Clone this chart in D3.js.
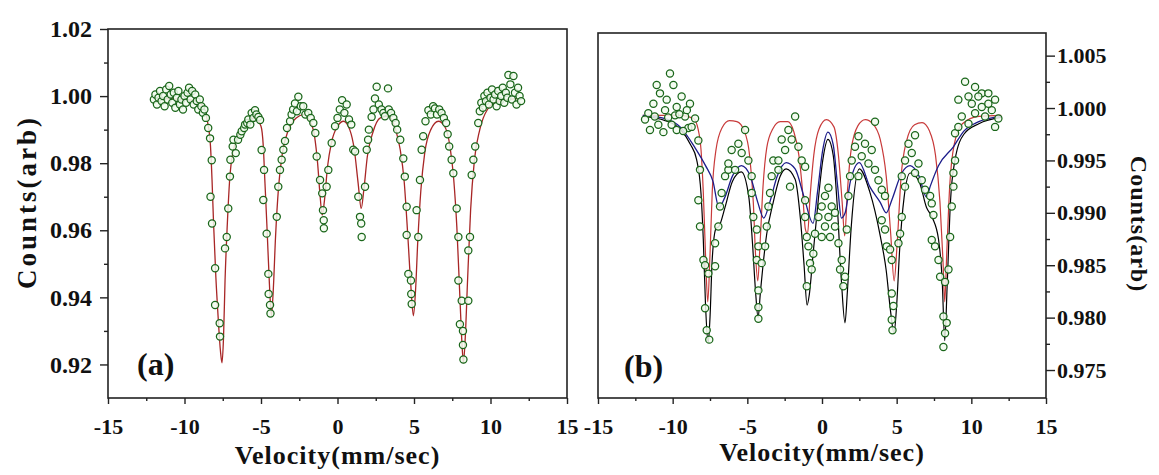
<!DOCTYPE html>
<html><head><meta charset="utf-8">
<script src="https://cdn.jsdelivr.net/npm/d3@7"></script>
<style>
body{margin:0;background:#fff}
text{font-family:"Liberation Serif","Times New Roman",serif;font-weight:bold;fill:#111}
</style>
</head><body>
<svg id="chart" width="1159" height="475"></svg>
<script>
// ---------- data ----------
const xTickValues = [-15,-10,-5,0,5,10,15];
const xMinorTicks = [-12.5,-7.5,-2.5,2.5,7.5,12.5];
const yTicksA = [0.92,0.94,0.96,0.98,1.00,1.02];
const yMinorA = [0.93,0.95,0.97,0.99,1.01];
const yTicksB = [0.975,0.980,0.985,0.990,0.995,1.000,1.005];
const yMinorB = [0.9775,0.9825,0.9875,0.9925,0.9975,1.0025];
const xTitle = "Velocity(mm/sec)";
const yTitle = "Counts(arb)";
const panelLabels = ["(a)","(b)"];

// panel (a) measured points [velocity, counts]
const dataA = [
[-12.0,0.9990],[-11.9,1.0005],[-11.8,0.9975],[-11.7,0.9995],[-11.6,1.0015],[-11.5,0.9985],[-11.4,1.0000],[-11.3,0.9970],[-11.2,1.0020],[-11.1,0.9990],[-11.0,1.0030],[-10.9,1.0005],[-10.8,0.9980],[-10.7,1.0010],[-10.6,0.9965],[-10.5,0.9995],[-10.4,1.0015],[-10.3,0.9975],[-10.2,0.9990],[-10.1,0.9960],[-10.0,1.0000],[-9.9,0.9980],[-9.8,1.0010],[-9.7,1.0025],[-9.6,0.9990],[-9.5,1.0015],[-9.4,0.9975],[-9.3,1.0005],[-9.2,0.9985],[-9.1,0.9960],[-9.0,0.9990],[-8.9,0.9970],[-8.8,0.9950],[-8.7,0.9960],[-8.6,0.9935],
[-8.45,0.9905],[-8.33,0.9874],[-8.22,0.9809],[-8.3,0.9700],[-8.2,0.9620],[-8.0,0.9487],[-8.0,0.9377],[-7.7,0.9323],[-7.68,0.9283],
[-7.35,0.9546],[-7.24,0.9580],[-7.14,0.9665],[-7.03,0.9760],[-7.0,0.9810],[-6.85,0.9850],[-6.8,0.9870],
[-6.65,0.9830],[-6.5,0.9870],[-6.35,0.9885],[-6.26,0.9895],[-6.1,0.9905],[-6.04,0.9915],[-5.9,0.9920],[-5.83,0.9930],[-5.7,0.9915],[-5.61,0.9950],[-5.5,0.9935],[-5.39,0.9958],[-5.3,0.9945],[-5.17,0.9938],[-5.06,0.9929],
[-4.96,0.9839],[-4.8,0.9780],[-4.85,0.9690],[-4.63,0.9590],[-4.52,0.9470],[-4.5,0.9410],[-4.41,0.9377],[-4.38,0.9352],
[-3.97,0.9640],[-3.87,0.9730],[-3.76,0.9780],[-3.65,0.9810],[-3.54,0.9840],[-3.43,0.9866],
[-3.3,0.9905],[-3.1,0.9925],[-3.0,0.9945],[-2.9,0.9960],[-2.78,0.9978],[-2.65,0.9955],[-2.56,0.9998],[-2.4,0.9970],[-2.24,0.9970],[-2.1,0.9945],[-1.91,0.9950],[-1.75,0.9935],[-1.58,0.9920],[-1.45,0.9890],
[-1.36,0.9820],[-1.14,0.9750],[-1.0,0.9710],[-0.95,0.9660],[-0.9,0.9630],[-0.89,0.9606],
[-0.71,0.9730],[-0.6,0.9780],[-0.38,0.9860],[-0.16,0.9910],
[0.0,0.9935],[0.15,0.9960],[0.3,0.9988],[0.45,0.9950],[0.6,0.9975],[0.75,0.9930],[0.9,0.9915],[1.03,0.9840],
[1.15,0.9835],[1.36,0.9700],[1.47,0.9640],[1.55,0.9620],[1.58,0.9580],[1.8,0.9730],[1.91,0.9840],[2.0,0.9870],
[2.05,0.9900],[2.23,0.9938],[2.35,0.9960],[2.45,0.9993],[2.56,1.0028],[2.7,0.9975],[2.88,0.9960],[3.0,0.9950],[3.1,0.9940],[3.3,1.0023],[3.35,0.9960],[3.5,0.9950],[3.65,0.9935],[3.8,0.9920],[3.9,0.9900],[4.1,0.9870],
[4.3,0.9814],[4.4,0.9760],[4.52,0.9670],[4.52,0.9586],[4.63,0.9470],[4.8,0.9450],[4.82,0.9410],[4.85,0.9380],
[5.28,0.9580],[5.17,0.9660],[5.39,0.9750],[5.5,0.9840],[5.6,0.9880],
[5.75,0.9925],[5.94,0.9958],[6.1,0.9945],[6.25,0.9970],[6.37,0.9963],[6.5,0.9945],[6.65,0.9960],[6.8,0.9950],[6.95,0.9935],[7.1,0.9920],[7.2,0.9886],[7.3,0.9850],[7.46,0.9810],[7.57,0.9770],
[7.79,0.9665],[7.9,0.9580],[7.9,0.9450],[8.12,0.9390],[8.0,0.9320],[8.2,0.9300],[8.2,0.9258],[8.23,0.9215],
[8.55,0.9390],[8.55,0.9540],[8.66,0.9580],[8.77,0.9765],[8.88,0.9810],[9.0,0.9850],[9.2,0.9920],
[9.3,0.9955],[9.4,0.9980],[9.5,0.9965],[9.6,1.0000],[9.7,0.9985],[9.8,1.0010],[9.9,0.9975],[10.0,0.9995],[10.1,1.0020],[10.2,0.9990],[10.3,1.0005],[10.4,0.9970],[10.5,1.0015],[10.6,0.9985],[10.7,1.0000],[10.8,1.0025],[10.9,0.9980],[11.0,1.0010],[11.1,0.9995],[11.17,1.0063],[11.3,1.0035],[11.4,0.9990],[11.5,1.0060],[11.6,1.0010],[11.7,0.9975],[11.8,1.0025],[11.9,1.0000],[12.0,0.9985]
];

// panel (a) fitted curve
const fitA = [
[-12,0.9993],[-10,0.9990],[-9.2,0.9985],[-8.8,0.9970],[-8.5,0.9925],[-8.3,0.985],[-8.2,0.975],[-8.1,0.962],[-7.95,0.946],[-7.8,0.934],[-7.65,0.924],[-7.55,0.9205],[-7.45,0.928],[-7.35,0.945],[-7.2,0.962],[-7.05,0.975],[-6.8,0.984],[-6.4,0.989],[-5.9,0.9925],[-5.4,0.9935],[-5.0,0.991],[-4.85,0.985],[-4.75,0.975],[-4.6,0.960],[-4.45,0.944],[-4.32,0.9345],[-4.2,0.942],[-4.05,0.958],[-3.85,0.973],[-3.6,0.983],[-3.2,0.990],[-2.7,0.9935],[-2.2,0.9945],[-1.8,0.9925],[-1.5,0.988],[-1.3,0.980],[-1.15,0.971],[-1.0,0.9645],[-0.85,0.969],[-0.65,0.979],[-0.4,0.986],[0.0,0.991],[0.4,0.9925],[0.8,0.990],[1.1,0.984],[1.35,0.974],[1.55,0.9665],[1.72,0.972],[1.95,0.982],[2.3,0.989],[2.8,0.9935],[3.3,0.994],[3.8,0.990],[4.1,0.984],[4.35,0.975],[4.6,0.958],[4.8,0.943],[4.96,0.9345],[5.1,0.942],[5.25,0.957],[5.45,0.972],[5.7,0.983],[6.1,0.990],[6.6,0.9925],[7.0,0.991],[7.35,0.985],[7.6,0.975],[7.8,0.961],[8.0,0.940],[8.15,0.925],[8.23,0.9205],[8.35,0.928],[8.5,0.945],[8.7,0.966],[8.95,0.981],[9.3,0.990],[9.8,0.9960],[10.5,0.9985],[12,0.9993]
];

// panel (b) measured points
const dataB = [
[-10.18,1.0033],[-11.07,1.0022],[-9.95,1.0022],[-10.85,1.0014],[-11.63,0.9995],[-11.85,0.9989],[-11.52,0.9979],[-10.96,0.9984],[-10.07,0.9984],[-9.17,0.9992],[-8.84,1.0004],[-8.50,0.9990],[-8.95,0.9981],[-9.73,0.9979],[-10.51,0.9998],[-9.40,1.0011],[-9.73,1.0001],[-10.40,1.0008],[-8.73,0.9982],[-11.29,1.0004],[-9.84,0.9993],[-10.62,0.9977],[-9.30,0.9978],[-11.20,0.9992],[-10.30,0.9991],[-9.55,0.9994],[-9.05,0.9998],
[-8.28,0.9969],[-8.17,0.9941],[-8.28,0.9912],[-8.17,0.9887],[-7.94,0.9855],[-7.83,0.9850],[-7.61,0.9842],[-7.83,0.9809],[-7.72,0.9788],[-7.55,0.9779],
[-7.16,0.9849],[-7.16,0.9871],[-6.94,0.9887],[-6.83,0.9906],[-6.72,0.9919],[-6.49,0.9935],[-6.27,0.9941],
[-5.15,0.9979],[-5.60,0.9966],[-6.05,0.9960],[-5.38,0.9957],[-4.93,0.9950],[-6.27,0.9947],[-5.82,0.9941],[-4.71,0.9935],[-4.71,0.9919],
[-4.60,0.9896],[-4.37,0.9884],[-4.26,0.9868],[-4.37,0.9855],[-4.04,0.9852],[-4.26,0.9826],[-4.26,0.9810],[-4.26,0.9799],
[-3.81,0.9868],[-3.70,0.9887],[-3.59,0.9906],[-3.48,0.9919],[-3.37,0.9935],[-3.26,0.9950],
[-1.80,0.9992],[-2.25,0.9979],[-2.70,0.9970],[-2.03,0.9970],[-2.47,0.9960],[-2.92,0.9950],[-1.58,0.9963],[-1.36,0.9950],[-1.13,0.9944],[-2.14,0.9925],[-2.92,0.9941],
[-1.13,0.9912],[-1.13,0.9896],[-1.02,0.9877],[-0.91,0.9868],[-0.58,0.9861],[-0.80,0.9852],[-0.69,0.9846],[-1.02,0.9830],
[0.43,0.9924],[0.20,0.9916],[-0.02,0.9906],[0.65,0.9906],[-0.24,0.9896],[0.43,0.9896],[0.87,0.9887],[0.20,0.9887],[-0.47,0.9880],[0.54,0.9877],[-0.02,0.9877],[0.87,0.9900],
[1.10,0.9871],[1.32,0.9855],[1.21,0.9846],[1.54,0.9839],[1.43,0.9830],[1.66,0.9884],[1.77,0.9916],[1.88,0.9935],
[3.55,0.9987],[2.44,0.9973],[2.88,0.9966],[2.21,0.9963],[3.33,0.9960],[2.66,0.9954],[3.11,0.9947],[3.55,0.9941],[2.44,0.9935],[3.78,0.9931],[4.00,0.9922],[4.22,0.9916],[1.99,0.9950],
[4.00,0.9893],[4.22,0.9884],[4.33,0.9868],[4.56,0.9865],[4.67,0.9855],[4.67,0.9823],[4.78,0.9811],[4.67,0.9798],[4.72,0.9788],
[5.12,0.9871],[5.23,0.9880],[5.34,0.9896],
[6.23,0.9974],[5.79,0.9966],[6.01,0.9957],[5.56,0.9950],[6.46,0.9947],[6.23,0.9938],[6.68,0.9931],[6.90,0.9922],[7.24,0.9916],[7.35,0.9909],[7.46,0.9898],[5.34,0.9935],[5.56,0.9925],
[7.35,0.9874],[7.57,0.9868],[7.80,0.9855],[7.91,0.9839],[8.24,0.9834],[8.13,0.9801],[8.35,0.9795],[8.24,0.9785],[8.13,0.9772],
[8.47,0.9846],[8.58,0.9877],[8.69,0.9906],[8.80,0.9925],[8.80,0.9938],[8.91,0.9950],[8.91,0.9976],[9.13,0.9982],
[9.58,1.0025],[10.25,1.0020],[10.70,1.0014],[11.14,1.0014],[11.59,1.0008],[10.03,1.0004],[10.70,1.0001],[11.37,0.9998],[11.81,0.9990],[11.59,0.9982],[10.25,0.9995],[9.36,0.9992],[9.81,0.9985],[10.92,0.9992],[9.13,1.0008],[10.47,1.0011],[11.14,1.0004],[9.81,1.0011]
];

// panel (b) fitted components
const fitBRed = [
[-12,0.9993],[-9.5,0.9993],[-8.6,0.9990],[-8.3,0.9980],[-8.1,0.9960],[-7.95,0.992],[-7.8,0.986],[-7.65,0.9815],[-7.5,0.986],[-7.35,0.992],[-7.1,0.9960],[-6.7,0.9981],[-6.2,0.9988],[-5.7,0.9987],[-5.2,0.9978],[-4.85,0.9955],[-4.6,0.991],[-4.45,0.986],[-4.3,0.9835],[-4.15,0.987],[-3.95,0.9925],[-3.7,0.9962],[-3.3,0.9980],[-2.8,0.9987],[-2.3,0.9987],[-1.9,0.9978],[-1.55,0.9955],[-1.3,0.992],[-1.12,0.9885],[-0.97,0.9880],[-0.8,0.9915],[-0.55,0.9955],[-0.2,0.9980],[0.3,0.9989],[0.8,0.9982],[1.1,0.9955],[1.35,0.991],[1.52,0.9878],[1.7,0.992],[1.95,0.9960],[2.4,0.9983],[2.9,0.9989],[3.4,0.9985],[3.9,0.9970],[4.3,0.9935],[4.6,0.988],[4.83,0.9835],[5.03,0.987],[5.3,0.9935],[5.65,0.9968],[6.2,0.9984],[6.7,0.9986],[7.2,0.9978],[7.6,0.9955],[7.9,0.991],[8.1,0.9855],[8.22,0.9815],[8.35,0.986],[8.55,0.9925],[8.85,0.9965],[9.4,0.9985],[10.5,0.9992],[12,0.9993]
];
const fitBBlue = [
[-12,0.9993],[-10.5,0.9990],[-9.5,0.9982],[-8.5,0.9962],[-7.8,0.9945],[-7.3,0.9930],[-6.9,0.9905],[-6.5,0.9915],[-6.0,0.9935],[-5.4,0.9945],[-4.8,0.9935],[-4.3,0.9910],[-3.9,0.9895],[-3.5,0.9910],[-3.0,0.9935],[-2.4,0.9948],[-1.8,0.9942],[-1.2,0.9915],[-0.6,0.9890],[-0.3,0.9920],[0.05,0.9960],[0.4,0.9977],[0.75,0.9965],[1.05,0.9925],[1.3,0.9895],[1.55,0.9900],[1.9,0.9930],[2.5,0.9948],[3.2,0.9925],[3.9,0.9910],[4.3,0.9900],[4.67,0.9912],[5.34,0.9938],[5.9,0.9945],[6.5,0.9935],[7.0,0.9915],[7.24,0.9925],[7.8,0.9945],[8.8,0.9963],[9.5,0.9978],[10.5,0.9987],[12,0.9992]
];
const fitBTotal = [
[-12,0.9992],[-10.5,0.9988],[-9.5,0.9980],[-8.8,0.9965],[-8.4,0.9951],[-8.1,0.9918],[-7.95,0.9875],[-7.8,0.9812],[-7.62,0.9776],[-7.5,0.9800],[-7.35,0.9856],[-7.1,0.9885],[-6.9,0.9887],[-6.5,0.9905],[-6.0,0.9930],[-5.4,0.9939],[-4.9,0.9915],[-4.65,0.9870],[-4.45,0.9825],[-4.28,0.9800],[-4.12,0.9825],[-3.95,0.9850],[-3.7,0.9880],[-3.3,0.9908],[-2.8,0.9935],[-2.4,0.9942],[-1.8,0.9932],[-1.45,0.9895],[-1.2,0.9850],[-1.0,0.9812],[-0.85,0.9822],[-0.6,0.9860],[-0.3,0.9905],[0.05,0.9950],[0.4,0.9970],[0.75,0.9955],[1.05,0.9900],[1.3,0.9835],[1.54,0.9795],[1.7,0.9825],[1.95,0.9885],[2.5,0.9942],[3.2,0.9920],[3.9,0.9878],[4.3,0.9845],[4.6,0.9805],[4.82,0.9785],[5.0,0.9812],[5.2,0.9865],[5.5,0.9915],[5.9,0.9938],[6.5,0.9930],[7.0,0.9905],[7.4,0.9895],[7.8,0.9875],[8.05,0.9835],[8.22,0.9778],[8.38,0.9830],[8.6,0.9910],[8.9,0.9950],[9.5,0.9975],[10.5,0.9985],[12,0.9991]
];

// ---------- drawing ----------
const svg = d3.select("#chart");
const ptStroke = "#1a661a", ptFill = "#f2fbee";

function panel(cfg){
  const x = d3.scaleLinear().domain([-15,15]).range([cfg.x0,cfg.x1]);
  const y = d3.scaleLinear().domain(cfg.ydom).range([cfg.y1,cfg.y0]);
  const g = svg.append("g");
  const xa = g.append("g").attr("transform",`translate(0,${cfg.y1})`)
    .call(d3.axisBottom(x).tickValues(xTickValues).tickSize(6).tickPadding(14).tickFormat(d=>String(d)));
  g.append("g").attr("transform",`translate(0,${cfg.y1})`)
    .call(d3.axisBottom(x).tickValues(xMinorTicks).tickSize(3).tickFormat(""));
  const ax = cfg.right ? d3.axisRight(y) : d3.axisLeft(y);
  const ya = g.append("g").attr("transform",`translate(${cfg.right?cfg.x1:cfg.x0},0)`)
    .call(ax.tickValues(cfg.yticks).tickSize(cfg.right?9:8).tickPadding(cfg.right?2:8).tickFormat(d3.format(cfg.fmt)));
  const axm = cfg.right ? d3.axisRight(y) : d3.axisLeft(y);
  g.append("g").attr("transform",`translate(${cfg.right?cfg.x1:cfg.x0},0)`)
    .call(axm.tickValues(cfg.yminor).tickSize(4).tickFormat(""));
  g.selectAll(".domain").remove();
  g.selectAll(".tick line").attr("stroke","#222").attr("stroke-width",1.4);
  xa.selectAll("text").style("font-size","22px").attr("fill","#111");
  ya.selectAll("text").style("font-size",cfg.yfs).attr("fill","#111");
  g.append("rect").attr("x",cfg.x0).attr("y",cfg.y0).attr("width",cfg.x1-cfg.x0).attr("height",cfg.y1-cfg.y0)
    .attr("fill","none").attr("stroke","#222").attr("stroke-width",1.6);
  const line = d3.line().x(d=>x(d[0])).y(d=>y(d[1])).curve(d3.curveMonotoneX);
  const clip = "clip"+cfg.id;
  svg.append("clipPath").attr("id",clip).append("rect").attr("x",cfg.x0).attr("y",cfg.y0).attr("width",cfg.x1-cfg.x0).attr("height",cfg.y1-cfg.y0);
  const pg = g.append("g").attr("clip-path",`url(#${clip})`);
  cfg.lines.forEach(l=>{
    pg.append("path").datum(l.data).attr("d",line).attr("fill","none").attr("stroke",l.color).attr("stroke-width",l.w);
  });
  pg.selectAll("circle.pt").data(cfg.points).join("circle").attr("class","pt")
    .attr("cx",d=>x(d[0])).attr("cy",d=>y(d[1])).attr("r",3.6)
    .attr("fill",ptFill).attr("fill-opacity",0.85).attr("stroke",ptStroke).attr("stroke-width",1.25);
  g.append("text").attr("x",(cfg.x0+cfg.x1)/2).attr("y",cfg.xtY).attr("text-anchor","middle")
    .style("font-size","26px").style("letter-spacing","1px").text(xTitle);
  g.append("text").attr("transform",`translate(${cfg.ytX},${cfg.ytY}) rotate(${cfg.right?90:-90})`)
    .attr("text-anchor","middle").style("font-size",cfg.ytfs).style("letter-spacing",cfg.ytls).text(yTitle);
  g.append("text").attr("x",cfg.lblX).attr("y",cfg.lblY).style("font-size","32px").text(cfg.label);
}

panel({id:"a",x0:108,x1:567,y0:29,y1:398,ydom:[0.91,1.02],yticks:yTicksA,yminor:yMinorA,fmt:".2f",yfs:"24px",
  points:dataA,lines:[{data:fitA,color:"#a82626",w:1.3}],
  xtY:464,ytX:36,ytY:202,ytfs:"27px",ytls:"3px",label:panelLabels[0],lblX:137,lblY:375});
panel({id:"b",right:true,x0:598,x1:1046,y0:33,y1:398,ydom:[0.97233,1.00716],yticks:yTicksB,yminor:yMinorB,fmt:".3f",yfs:"22px",
  points:dataB,lines:[{data:fitBRed,color:"#c83a3a",w:1.2},{data:fitBTotal,color:"#000",w:1.2},{data:fitBBlue,color:"#1c1c8a",w:1.3}],
  xtY:461,ytX:1131,ytY:224,ytfs:"24px",ytls:"1px",label:panelLabels[1],lblX:624,lblY:377});
</script>
</body></html>
